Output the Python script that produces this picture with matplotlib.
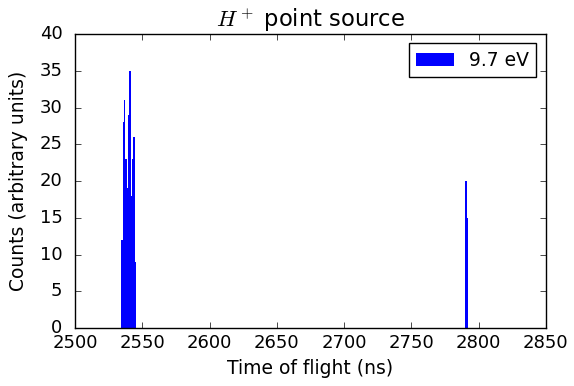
import matplotlib
matplotlib.use("Agg")
import matplotlib.pyplot as plt

plt.style.use("classic")

# histogram bins (ns, left edge) and counts
bin_left = [2534.3, 2535.3, 2536.3, 2537.3, 2538.3, 2539.3, 2540.3, 2541.3, 2542.3, 2543.3, 2544.3,
            2790.0, 2791.0]
counts = [12, 28, 31, 23, 19, 29, 35, 18, 23, 26, 9,
          20, 15]
bin_width = 1.0
label = "9.7 eV"

fig = plt.figure(figsize=(5.74, 3.86), dpi=100)
ax = fig.add_axes([0.1307, 0.150, 0.8203, 0.762])
ax.bar(bin_left, counts, width=bin_width, align="edge", color="b", linewidth=0, label=label)

ax.set_xlim(2500, 2850)
ax.set_ylim(0, 40)
ax.set_xticks(range(2500, 2851, 50))
ax.set_yticks(range(0, 41, 5))
ax.tick_params(labelsize=13)
ax.tick_params(axis="y", pad=9)
ax.set_xlabel("Time of flight (ns)", fontsize=13.5)
ax.set_ylabel("Counts (arbitrary units)", fontsize=13.5, labelpad=8)
ax.set_title("$H^+$ point source", fontsize=16.3)
ax.legend(loc="upper right", fontsize=13.5)

fig.savefig("out.png", dpi=100)
